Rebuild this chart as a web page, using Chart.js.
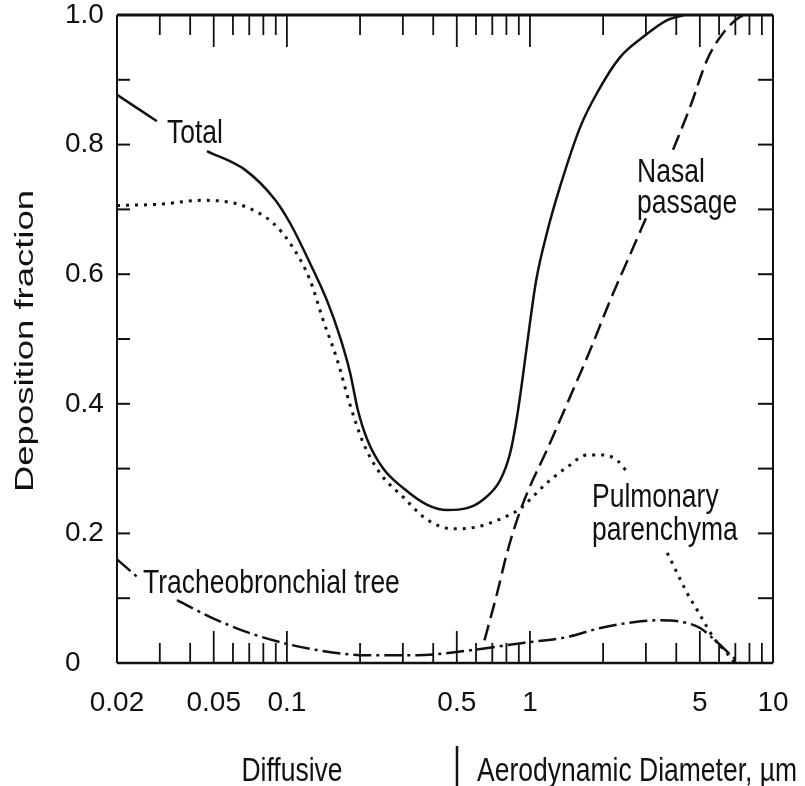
<!DOCTYPE html>
<html>
<head>
<meta charset="utf-8">
<script src="https://cdn.jsdelivr.net/npm/chart.js@4.4.1/dist/chart.umd.min.js"></script>
<style>
html,body{margin:0;padding:0;background:#fff;}
canvas{display:block;}
</style>
</head>
<body>
<canvas id="c" width="805" height="786"></canvas>
<script>
// ---- tick values / labels ----
const xTickValues = [0.02, 0.05, 0.1, 0.5, 1, 5, 10];
const xTickLabels = ['0.02', '0.05', '0.1', '0.5', '1', '5', '10'];
const xMinorTicks = [0.03, 0.04, 0.06, 0.07, 0.08, 0.09, 0.2, 0.3, 0.4, 0.6, 0.7, 0.8, 0.9, 2, 3, 4, 6, 7, 8, 9];
const yTickValues = [0, 0.2, 0.4, 0.6, 0.8, 1.0];
const yTickLabels = ['0', '0.2', '0.4', '0.6', '0.8', '1.0'];
const yMinorTicks = [0.1, 0.3, 0.5, 0.7, 0.9];

// ---- series (diameter in µm, deposition fraction); null = break in the curve ----
const totalDiam = [0.020, 0.0292, 0.036, 0.0469, 0.0673, 0.0894, 0.103, 0.1245, 0.146, 0.1655, 0.182, 0.196, 0.214, 0.249, 0.301, 0.378, 0.456, 0.551, 0.641, 0.754, 0.829, 0.885, 0.937, 1.00, 1.06, 1.175, 1.33, 1.61, 1.89, 2.35, 2.92, 3.67, 4.3];
const totalFrac = [0.877, 0.836, null, 0.790, 0.761, 0.715, 0.679, 0.617, 0.560, 0.503, 0.448, 0.390, 0.345, 0.300, 0.270, 0.244, 0.236, 0.239, 0.252, 0.282, 0.324, 0.380, 0.445, 0.525, 0.590, 0.664, 0.735, 0.827, 0.880, 0.935, 0.966, 0.992, 1.0];

const pulmDiam = [0.020, 0.030, 0.045, 0.060, 0.0726, 0.0877, 0.103, 0.1245, 0.141, 0.161, 0.182, 0.206, 0.2416, 0.301, 0.378, 0.483, 0.605, 0.775, 0.91, 1.0, 1.175, 1.42, 1.72, 2.0, 2.28, 2.51, 3.0, 3.67, 4.03, 4.43, 4.87, 5.16, 5.67, 6.47, 6.98];
const pulmFrac = [0.706, 0.708, 0.714, 0.710, 0.699, 0.679, 0.648, 0.591, 0.529, 0.468, 0.398, 0.340, 0.293, 0.256, 0.221, 0.207, 0.210, 0.224, 0.238, 0.252, 0.278, 0.302, 0.321, 0.321, 0.313, 0.295, null, 0.170, 0.139, 0.108, 0.082, 0.066, 0.040, 0.015, 0.0];

const nasalDiam = [0.65, 0.733, 0.805, 0.885, 0.973, 1.175, 1.46, 1.77, 2.14, 2.58, 3.03, 3.4, 3.88, 4.56, 5.36, 6.23, 7.32, 8.0];
const nasalFrac = [0.035, 0.108, 0.170, 0.221, 0.262, 0.329, 0.410, 0.483, 0.560, 0.630, 0.690, null, 0.792, 0.858, 0.931, 0.972, 0.997, 1.0];

const tracDiam = [0.020, 0.0242, 0.030, 0.0353, 0.0497, 0.0705, 0.0964, 0.133, 0.214, 0.3435, 0.551, 0.937, 1.42, 1.95, 2.66, 3.43, 4.27, 5.01, 5.89, 6.85, 7.32];
const tracFrac = [0.160, 0.133, null, 0.097, 0.069, 0.046, 0.031, 0.020, 0.012, 0.012, 0.019, 0.031, 0.040, 0.054, 0.063, 0.066, 0.063, 0.054, 0.032, 0.009, 0.0];

// ---- text ----
const yTitle = 'Deposition fraction';
const curveLabels = [
  { text: 'Total', x: 0.0321, y: 0.802 },
  { text: 'Nasal', x: 2.76, y: 0.742 },
  { text: 'passage', x: 2.76, y: 0.694 },
  { text: 'Pulmonary', x: 1.80, y: 0.241 },
  { text: 'parenchyma', x: 1.80, y: 0.190 },
  { text: 'Tracheobronchial tree', x: 0.0256, y: 0.108 }
];
const leftCaption = 'Diffusive';
const rightCaption = 'Aerodynamic Diameter, µm';

const FAMILY = '"Liberation Sans", Arial, Helvetica, sans-serif';
const TICK_FS = 28;
const LABEL_FS = 26.5;
const STRETCH = 1.22;
const INK = '#111';

function pts(d, f) { return d.map((x, i) => ({ x: x, y: f[i] })); }

const deco = {
  id: 'deco',
  afterDraw(chart) {
    const { ctx, chartArea: a, scales: { x, y } } = chart;
    ctx.save();
    ctx.strokeStyle = INK;
    ctx.fillStyle = INK;
    const seg = (x1, y1, x2, y2, w) => { ctx.lineWidth = w; ctx.beginPath(); ctx.moveTo(x1, y1); ctx.lineTo(x2, y2); ctx.stroke(); };
    const text = (s, px, py, align) => {
      ctx.save();
      ctx.translate(px, py);
      ctx.scale(1, STRETCH);
      ctx.textAlign = align || 'left';
      ctx.textBaseline = 'alphabetic';
      ctx.fillText(s, 0, 0);
      ctx.restore();
    };
    // frame
    seg(a.left, a.top, a.right, a.top, 3);
    seg(a.left, a.bottom, a.right, a.bottom, 2.5);
    seg(a.left, a.top, a.left, a.bottom, 2);
    seg(a.right, a.top, a.right, a.bottom, 2);
    // inward y ticks
    yTickValues.concat(yMinorTicks).forEach(v => {
      const p = y.getPixelForValue(v);
      seg(a.left, p, a.left + 13, p, 2);
      seg(a.right, p, a.right - 15, p, 2);
    });
    // inward x ticks
    xTickValues.concat(xMinorTicks).forEach(v => {
      const p = x.getPixelForValue(v);
      const major = xTickValues.includes(v);
      const len = major ? 32 : 20;
      seg(p, a.bottom, p, a.bottom - len, 1.8);
      seg(p, a.top, p, a.top + len, 1.8);
    });
    // curve labels
    ctx.font = LABEL_FS + 'px ' + FAMILY;
    curveLabels.forEach(l => text(l.text, x.getPixelForValue(l.x), y.getPixelForValue(l.y)));
    // bottom captions
    text(leftCaption, 292, 781, 'center');
    text(rightCaption, 477, 781, 'left');
    seg(457, 746, 457, 786, 2.5);
    // y title
    ctx.save();
    ctx.translate(33, 341);
    ctx.rotate(-Math.PI / 2);
    ctx.font = '25px ' + FAMILY;
    const w = ctx.measureText(yTitle).width;
    ctx.scale(302 / w, 1);
    ctx.textAlign = 'center';
    ctx.textBaseline = 'alphabetic';
    ctx.fillText(yTitle, 0, 0);
    ctx.restore();
    ctx.restore();
  }
};

const common = { borderColor: INK, backgroundColor: INK, borderWidth: 2.5, pointRadius: 0, fill: false, spanGaps: false, cubicInterpolationMode: 'monotone' };

new Chart(document.getElementById('c'), {
  type: 'line',
  data: {
    datasets: [
      Object.assign({ label: 'Total', data: pts(totalDiam, totalFrac) }, common),
      Object.assign({ label: 'Pulmonary parenchyma', data: pts(pulmDiam, pulmFrac), borderDash: [3, 6] }, common, { borderWidth: 3 }),
      Object.assign({ label: 'Nasal passage', data: pts(nasalDiam, nasalFrac), borderDash: [16, 7] }, common),
      Object.assign({ label: 'Tracheobronchial tree', data: pts(tracDiam, tracFrac), borderDash: [18, 5, 3, 5] }, common)
    ]
  },
  options: {
    responsive: false,
    animation: false,
    devicePixelRatio: 1,
    layout: { padding: { left: 65, right: 32, top: 15, bottom: 0 } },
    plugins: { legend: { display: false }, tooltip: { enabled: false } },
    scales: {
      x: {
        type: 'logarithmic',
        min: 0.02, max: 10,
        grid: { display: false, drawTicks: false },
        border: { display: false },
        afterBuildTicks: s => { s.ticks = xTickValues.map(v => ({ value: v })); },
        afterFit: s => { s.height = 123; s.paddingLeft = 0; s.paddingRight = 0; },
        ticks: {
          autoSkip: false, maxRotation: 0, padding: 23, color: INK,
          font: { family: FAMILY, size: TICK_FS },
          callback: (v) => { const i = xTickValues.findIndex(t => Math.abs(t - v) < 1e-9); return i >= 0 ? xTickLabels[i] : ''; }
        }
      },
      y: {
        type: 'linear',
        min: 0, max: 1.0,
        grid: { display: false, drawTicks: false },
        border: { display: false },
        afterBuildTicks: s => { s.ticks = yTickValues.map(v => ({ value: v })); },
        afterFit: s => { s.width = 52; s.paddingTop = 0; s.paddingBottom = 0; },
        ticks: {
          autoSkip: false, crossAlign: 'far', padding: 0, color: INK,
          font: { family: FAMILY, size: TICK_FS },
          callback: (v) => { const i = yTickValues.findIndex(t => Math.abs(t - v) < 1e-9); return i >= 0 ? yTickLabels[i] : ''; }
        }
      }
    }
  },
  plugins: [deco]
});
</script>
</body>
</html>
